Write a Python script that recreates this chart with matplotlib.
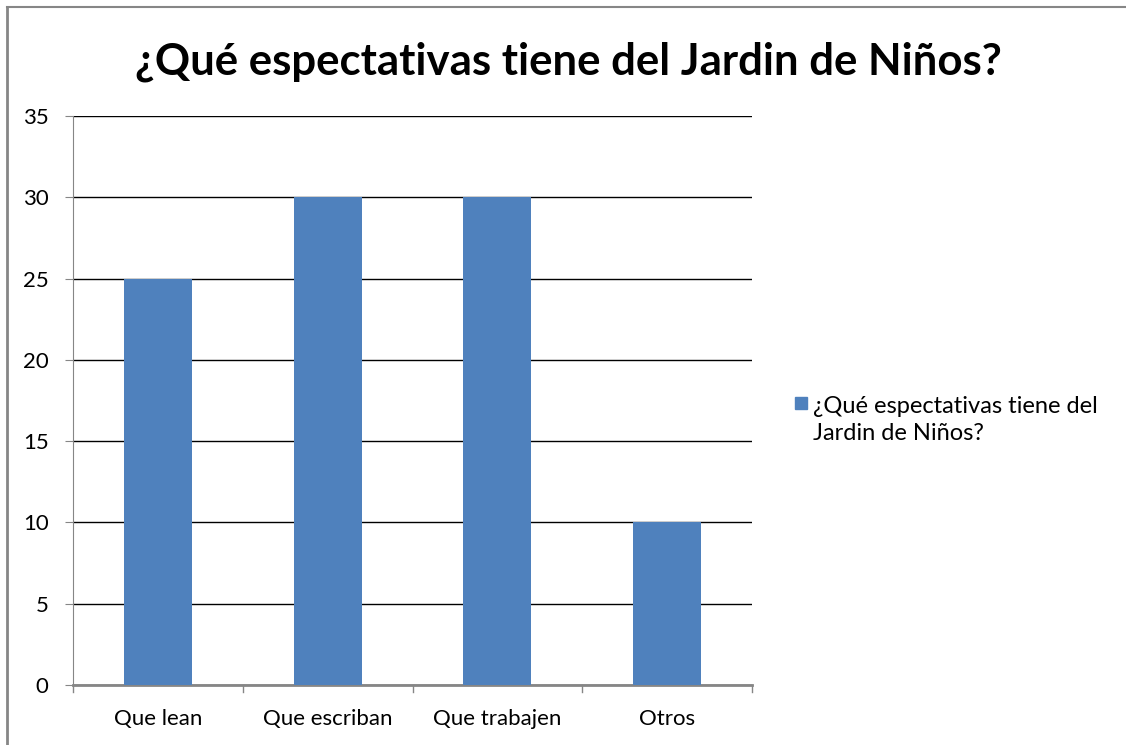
import matplotlib.pyplot as plt
from matplotlib.lines import Line2D
from matplotlib.patches import Rectangle

categorias = ['Que lean', 'Que escriban', 'Que trabajen', 'Otros']
valores = [25, 30, 30, 10]
yticks = [0, 5, 10, 15, 20, 25, 30, 35]
titulo = '¿Qué espectativas tiene del Jardin de Niños?'
serie = '¿Qué espectativas tiene del\nJardin de Niños?'

plt.rcParams['font.family'] = ['Lato', 'DejaVu Sans']
azul = '#4F81BD'
gris = '#868686'

fig = plt.figure(figsize=(11.26, 7.45), dpi=100)
W, H = 1126, 745
ax = fig.add_axes([73 / W, 1 - 685 / H, (752 - 73) / W, (685 - 116) / H])

x = range(len(categorias))
ax.bar(x, valores, width=0.4, color=azul, zorder=3)
ax.set_xlim(-0.5, len(categorias) - 0.5)
ax.set_ylim(0, 35)
ax.set_yticks(yticks)
ax.set_yticklabels([str(v) for v in yticks], fontsize=16)
ax.yaxis.grid(True, color='black', linewidth=1, zorder=0)
ax.set_xticks(list(x))
ax.set_xticklabels(categorias, fontsize=16)
ax.tick_params(axis='x', length=0, pad=17)
ax.tick_params(axis='y', length=6, color=gris, pad=11.5)
# separadores entre categorias
for b in [i - 0.5 for i in range(len(categorias) + 1)]:
    ax.plot([b, b], [0, -0.4], color=gris, linewidth=1, clip_on=False, zorder=4)
for s in ['top', 'right']:
    ax.spines[s].set_visible(False)
ax.spines['left'].set_color(gris)
ax.spines['bottom'].set_color(gris)
ax.spines['bottom'].set_linewidth(2)

fig.text(568 / W, 1 - 62 / H, titulo, ha='center', va='center',
         fontsize=31.5, fontweight='bold')

# leyenda
fig.patches.append(Rectangle((795 / W, 1 - 409 / H), 12 / W, 12 / H,
                             transform=fig.transFigure, color=azul))
fig.text(813 / W, 1 - 420 / H, serie, ha='left', va='center', fontsize=17,
         linespacing=1.4, transform=fig.transFigure)

# borde del grafico
fig.add_artist(Line2D([7 / W, 7 / W], [0, 1 - 7 / H], color=gris, linewidth=2))
fig.add_artist(Line2D([7 / W, 1], [1 - 7 / H, 1 - 7 / H], color=gris, linewidth=1.5))

fig.savefig('out.png', dpi=100)
